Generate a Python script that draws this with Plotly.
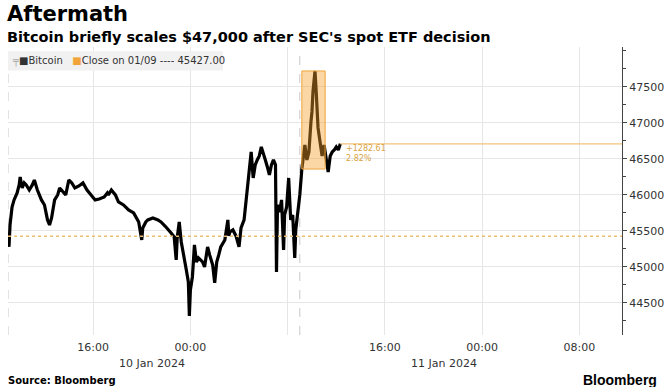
import plotly.graph_objects as go
import pandas as pd

# ---- data ----
times = [
    "2024-01-09 09:00", "2024-01-09 09:05", "2024-01-09 09:10", "2024-01-09 09:20", "2024-01-09 09:30",
    "2024-01-09 09:45", "2024-01-09 09:55", "2024-01-09 10:00", "2024-01-09 10:10", "2024-01-09 10:20",
    "2024-01-09 10:30", "2024-01-09 10:45", "2024-01-09 11:00", "2024-01-09 11:10", "2024-01-09 11:25",
    "2024-01-09 11:45", "2024-01-09 12:00", "2024-01-09 12:15", "2024-01-09 12:25", "2024-01-09 12:35",
    "2024-01-09 12:50", "2024-01-09 13:05", "2024-01-09 13:15", "2024-01-09 13:30", "2024-01-09 13:45",
    "2024-01-09 14:00", "2024-01-09 14:15", "2024-01-09 14:30", "2024-01-09 14:50", "2024-01-09 15:10",
    "2024-01-09 15:30", "2024-01-09 15:50", "2024-01-09 16:10", "2024-01-09 16:30", "2024-01-09 16:55",
    "2024-01-09 17:10", "2024-01-09 17:15", "2024-01-09 17:30", "2024-01-09 17:50", "2024-01-09 18:05",
    "2024-01-09 18:30", "2024-01-09 18:55", "2024-01-09 19:20", "2024-01-09 19:45", "2024-01-09 20:00",
    "2024-01-09 20:05", "2024-01-09 20:20", "2024-01-09 20:30", "2024-01-09 20:55", "2024-01-09 21:20",
    "2024-01-09 21:35", "2024-01-09 21:55", "2024-01-09 22:10", "2024-01-09 22:25", "2024-01-09 22:40",
    "2024-01-09 22:50", "2024-01-09 22:55", "2024-01-09 23:05", "2024-01-09 23:15", "2024-01-09 23:25",
    "2024-01-09 23:40", "2024-01-09 23:50", "2024-01-09 23:55",
    "2024-01-10 00:00", "2024-01-10 00:10", "2024-01-10 00:20", "2024-01-10 00:30", "2024-01-10 00:40",
    "2024-01-10 00:50", "2024-01-10 01:00", "2024-01-10 01:10", "2024-01-10 01:20", "2024-01-10 01:25",
    "2024-01-10 01:35", "2024-01-10 01:50", "2024-01-10 02:00", "2024-01-10 02:10", "2024-01-10 02:20",
    "2024-01-10 02:30", "2024-01-10 02:50", "2024-01-10 03:05", "2024-01-10 03:10", "2024-01-10 03:15",
    "2024-01-10 03:30", "2024-01-10 03:45", "2024-01-10 04:00", "2024-01-10 04:10", "2024-01-10 04:25",
    "2024-01-10 04:35", "2024-01-10 04:40", "2024-01-10 04:50", "2024-01-10 05:00", "2024-01-10 05:10",
    "2024-01-10 05:20", "2024-01-10 05:30", "2024-01-10 05:40", "2024-01-10 05:50", "2024-01-10 06:00",
    "2024-01-10 06:10", "2024-01-10 06:20", "2024-01-10 06:30", "2024-01-10 06:40", "2024-01-10 06:50",
    "2024-01-10 07:00", "2024-01-10 07:05", "2024-01-10 07:10", "2024-01-10 07:20", "2024-01-10 07:30",
    "2024-01-10 07:40", "2024-01-10 07:45", "2024-01-10 07:55", "2024-01-10 08:05", "2024-01-10 08:15",
    "2024-01-10 08:25", "2024-01-10 08:35", "2024-01-10 08:40", "2024-01-10 08:50", "2024-01-10 09:00",
    "2024-01-10 09:10", "2024-01-10 09:15", "2024-01-10 09:25", "2024-01-10 09:35", "2024-01-10 09:45",
    "2024-01-10 09:55", "2024-01-10 10:00", "2024-01-10 10:05", "2024-01-10 10:10", "2024-01-10 10:15",
    "2024-01-10 10:20", "2024-01-10 10:25", "2024-01-10 10:30", "2024-01-10 10:40", "2024-01-10 10:50",
    "2024-01-10 11:00", "2024-01-10 11:10", "2024-01-10 11:20", "2024-01-10 11:30", "2024-01-10 11:40",
    "2024-01-10 11:50", "2024-01-10 12:00", "2024-01-10 12:10", "2024-01-10 12:20",
]
prices = [
    45480, 45280, 45583, 45833, 45931,
    46028, 46139, 46250, 46097, 46167,
    46139, 46069, 46139, 46208, 46069,
    45931, 45861, 45653, 45583, 45681,
    45931, 46000, 46097, 46042, 46000,
    46208, 46167, 46097, 46125, 46167,
    46069, 46000, 45931, 45944, 45972,
    46028, 46000, 46069, 46000, 45903,
    45861, 45792, 45750, 45625, 45375,
    45542, 45625, 45653, 45681, 45653,
    45625, 45569, 45528, 45472, 45417,
    45097, 45403, 45625, 45347, 45167,
    44958, 44792, 44319,
    44681, 44861, 45306, 45069, 45125,
    45097, 45069, 45000, 45167, 45278,
    45167, 45028, 44778, 45069, 45167,
    45278, 45375, 45653, 45431, 45486,
    45514, 45431, 45278, 45542, 45653,
    45931, 46111, 46347, 46597, 46236,
    46417, 46486, 46542, 46667, 46556,
    46486, 46389, 46278, 46417, 46486,
    46417, 44931, 45861, 45764, 45931,
    45236, 45722, 45833, 46236, 45653,
    45722, 45125, 45514, 45764, 46000,
    46360, 46458, 46694, 46486, 46597,
    47014, 47153, 47431, 47625, 47722,
    47486, 47236, 46931, 46736, 46542,
    46694, 46486, 46319, 46542, 46597,
    46625, 46667, 46625, 46710,
]

prev_close = 45427.00
change_abs = 1282.61
change_pct = 2.82
box_start = "2024-01-10 09:10"
box_end = "2024-01-10 11:05"
session_lines = ["2024-01-09 09:00", "2024-01-10 09:00"]

tick_vals = ["2024-01-09 16:00", "2024-01-10 00:00", "2024-01-10 08:00",
             "2024-01-10 16:00", "2024-01-11 00:00", "2024-01-11 08:00"]
tick_text = ["16:00", "00:00", "", "16:00", "00:00", "08:00"]
y_tick_vals = [44500, 45000, 45500, 46000, 46500, 47000, 47500]
date_labels = [("2024-01-09 20:50", "10 Jan 2024"), ("2024-01-10 20:50", "11 Jan 2024")]
x_range = ["2024-01-09 09:00", "2024-01-11 11:30"]
y_range = [44055, 48055]

# ---- figure ----
df = pd.DataFrame({"t": pd.to_datetime(times), "p": prices})
win = df[(df.t >= pd.Timestamp(box_start)) & (df.t <= pd.Timestamp(box_end))]
last_t = df.t.iloc[-1]
level = prev_close + change_abs

ORANGE = "#f0a43a"
TXT = "#333333"
FONT = "DejaVu Sans"

fig = go.Figure()
fig.add_trace(go.Scatter(x=df.t, y=df.p, mode="lines",
                         line=dict(color="black", width=3.2), hoverinfo="skip",
                         showlegend=False))

shapes = []
shapes.append(dict(type="line", xref="paper", yref="y", x0=0, x1=1, y0=prev_close, y1=prev_close,
                   line=dict(color="#ebbd6e", width=1.5, dash="dot"), layer="above"))
shapes.append(dict(type="line", xref="x", yref="y", x0=last_t, x1=x_range[1], y0=level, y1=level,
                   line=dict(color="#f2c27a", width=1.2), layer="above"))
for s in session_lines:
    shapes.append(dict(type="line", xref="x", yref="paper", x0=s, x1=s, y0=0, y1=1,
                       line=dict(color="#c8c8c8", width=1, dash="dash"), layer="below"))
shapes.append(dict(type="rect", xref="x", yref="y", x0=box_start, x1=box_end,
                   y0=win.p.min(), y1=win.p.max(),
                   fillcolor="rgba(245,160,40,0.42)", line=dict(color=ORANGE, width=1),
                   layer="above"))
shapes.append(dict(type="rect", xref="paper", yref="paper", x0=0.0, x1=0.35, y0=0.918, y1=0.985,
                   fillcolor="#f1f1f1", line=dict(width=0), layer="above"))

annotations = []
annotations.append(dict(xref="paper", yref="paper", x=0.003, y=0.951, xanchor="left", yanchor="middle",
                        showarrow=False, font=dict(family=FONT, size=10, color=TXT),
                        text="<span style='color:#aaaaaa'>╤</span>■Bitcoin   "
                             f"<span style='color:{ORANGE}'>■</span>Close on 01/09 ---- {prev_close:.2f}"))
annotations.append(dict(xref="x", yref="y", x=last_t, y=level, xanchor="left", yanchor="top",
                        xshift=4, yshift=2, showarrow=False, align="left",
                        font=dict(family=FONT, size=8, color="#d9a441"),
                        text=f"+{change_abs:.2f}<br>{change_pct:.2f}%"))
for t, lab in date_labels:
    annotations.append(dict(xref="x", yref="paper", x=t, y=-0.07, yanchor="top", showarrow=False,
                            font=dict(family=FONT, size=11, color=TXT), text=lab))
annotations.append(dict(xref="paper", yref="paper", x=-0.005, y=1.0, yshift=47, xanchor="left",
                        yanchor="top", showarrow=False,
                        font=dict(family=FONT, size=21, color="black"), text="<b>Aftermath</b>"))
annotations.append(dict(xref="paper", yref="paper", x=-0.005, y=1.0, yshift=20, xanchor="left",
                        yanchor="top", showarrow=False,
                        font=dict(family=FONT, size=14.5, color="black"),
                        text="<b>Bitcoin briefly scales $47,000 after SEC's spot ETF decision</b>"))
annotations.append(dict(xref="paper", yref="paper", x=-0.004, y=0, yshift=-38, xanchor="left",
                        yanchor="top", showarrow=False,
                        font=dict(family=FONT, size=10, color="black"), text="<b>Source: Bloomberg</b>"))
annotations.append(dict(xref="paper", yref="paper", x=1.06, y=0, yshift=-35, xanchor="right",
                        yanchor="top", showarrow=False,
                        font=dict(family="Liberation Sans", size=14, color="black"), text="<b>Bloomberg</b>"))

fig.update_layout(
    width=672, height=387,
    margin=dict(l=8, r=42, t=47, b=52),
    paper_bgcolor="white", plot_bgcolor="white",
    shapes=shapes, annotations=annotations,
    showlegend=False,
    xaxis=dict(type="date", range=x_range, tickvals=tick_vals, ticktext=tick_text,
               showgrid=True, gridcolor="#e6e6e6", gridwidth=1, zeroline=False,
               showline=False, ticks="", ticklabelstandoff=4,
               tickfont=dict(family=FONT, size=11, color=TXT)),
    yaxis=dict(side="right", range=y_range, tickvals=y_tick_vals,
               showgrid=True, gridcolor="#e6e6e6", gridwidth=1, zeroline=False,
               showline=True, linecolor="#444444", linewidth=1,
               ticks="outside", ticklen=4, tickcolor="#444444",
               minor=dict(tick0=44000, dtick=250, ticks="outside", ticklen=3,
                          tickcolor="#444444", showgrid=False),
               tickformat="d", tickfont=dict(family=FONT, size=11, color=TXT)),
)

fig.write_html("out.html")
